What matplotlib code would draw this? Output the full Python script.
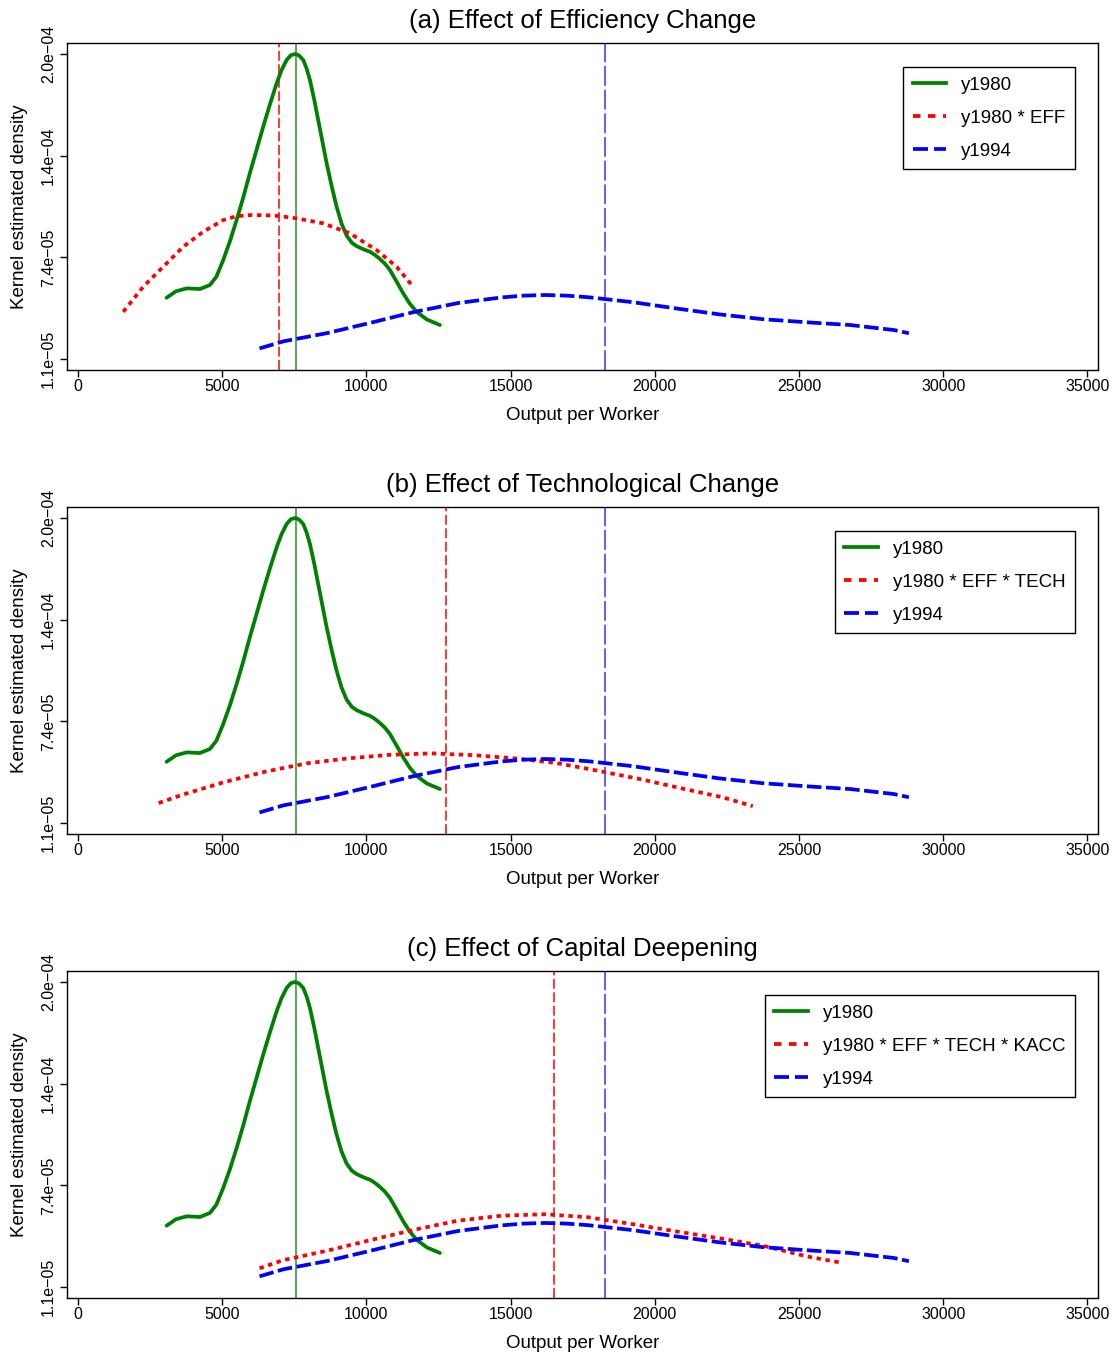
import numpy as np
import matplotlib
matplotlib.use('Agg')
import matplotlib.pyplot as plt
from matplotlib.lines import Line2D

plt.rcParams['font.family'] = ['Liberation Sans', 'DejaVu Sans']

# --- data (output per worker, kernel density) ---
y1980_x = [3075, 3400, 3769, 4230, 4577, 4800, 5038, 5270, 5502, 5730, 5963, 6200,
           6424, 6660, 6889, 7060, 7236, 7380, 7523, 7660, 7812, 7930, 8044, 8190,
           8331, 8622, 8800, 8969, 9140, 9316, 9500, 9662, 9900, 10124, 10300, 10471,
           10650, 10817, 11050, 11278, 11500, 11743, 12100, 12551]
y1980_y = [4.90e-5, 5.30e-5, 5.48e-5, 5.44e-5, 5.69e-5, 6.20e-5, 7.24e-5, 8.40e-5,
           9.71e-5, 1.11e-4, 1.263e-4, 1.41e-4, 1.550e-4, 1.69e-4, 1.818e-4, 1.90e-4,
           1.963e-4, 1.992e-4, 2.0e-4, 1.992e-4, 1.963e-4, 1.91e-4, 1.839e-4, 1.72e-4,
           1.591e-4, 1.325e-4, 1.18e-4, 1.054e-4, 9.50e-5, 8.75e-5, 8.30e-5, 8.10e-5,
           7.90e-5, 7.75e-5, 7.55e-5, 7.30e-5, 7.00e-5, 6.62e-5, 5.90e-5, 5.17e-5,
           4.55e-5, 4.03e-5, 3.55e-5, 3.21e-5]

y1994_x = [6296, 7128, 8640, 10151, 11663, 13175, 14686, 15450, 16194, 16950, 17706,
           19217, 20729, 22241, 23753, 25264, 26776, 28288, 28811]
y1994_y = [1.76e-5, 2.20e-5, 2.71e-5, 3.35e-5, 4.02e-5, 4.57e-5, 4.92e-5, 5.03e-5,
           5.07e-5, 5.03e-5, 4.93e-5, 4.63e-5, 4.24e-5, 3.87e-5, 3.57e-5, 3.38e-5,
           3.21e-5, 2.90e-5, 2.70e-5]

eff_x = [1571, 2264, 2957, 3651, 4344, 5038, 5500, 5963, 6426, 6889, 7582, 8505,
         9430, 10356, 11049, 11625]
eff_y = [4.03e-5, 5.58e-5, 6.82e-5, 8.06e-5, 8.99e-5, 9.71e-5, 9.95e-5, 1.002e-4,
         1.002e-4, 9.98e-5, 9.82e-5, 9.51e-5, 8.89e-5, 7.85e-5, 6.82e-5, 5.58e-5]

tech_x = [2800, 3595, 5038, 6483, 7929, 9372, 10817, 12263, 13705, 15151, 16597,
          18039, 19485, 20930, 22372, 23400]
tech_y = [2.34e-5, 2.84e-5, 3.62e-5, 4.28e-5, 4.80e-5, 5.11e-5, 5.33e-5, 5.42e-5,
          5.31e-5, 5.11e-5, 4.82e-5, 4.34e-5, 3.83e-5, 3.25e-5, 2.69e-5, 2.15e-5]

kacc_x = [6296, 7128, 8640, 10151, 11663, 13175, 14686, 16194, 17706, 19217,
          20729, 22241, 23753, 25264, 26400]
kacc_y = [2.26e-5, 2.77e-5, 3.35e-5, 4.01e-5, 4.65e-5, 5.21e-5, 5.52e-5, 5.61e-5,
          5.42e-5, 5.00e-5, 4.55e-5, 4.12e-5, 3.66e-5, 3.00e-5, 2.63e-5]

# vertical reference lines
vline_1980 = 7558
vline_1994 = 18271
vline_eff = 6969
vline_tech = 12759
vline_kacc = 16520

panel_titles = ['(a) Effect of Efficiency Change',
                '(b) Effect of Technological Change',
                '(c) Effect of Capital Deepening']
red_labels = ['y1980 * EFF', 'y1980 * EFF * TECH', 'y1980 * EFF * TECH * KACC']

x_ticks = [0, 5000, 10000, 15000, 20000, 25000, 30000, 35000]
y_ticks = [1.1e-5, 7.4e-5, 1.37e-4, 2.0e-4]
y_tick_labels = ['1.1e\u221205', '7.4e\u221205', '1.4e\u221204', '2.0e\u221204']

GREEN = '#008000'
RED = '#FF0000'
BLUE = '#0000FF'

red_series = [(eff_x, eff_y, vline_eff), (tech_x, tech_y, vline_tech), (kacc_x, kacc_y, vline_kacc)]

fig = plt.figure(figsize=(11.16, 13.54), dpi=100)
bottoms = [0.7267, 0.3840, 0.04136]

for i in range(3):
	ax = fig.add_axes([0.0600, bottoms[i], 0.9238, 0.2415])
	rx, ry, rv = red_series[i]

	# reference lines (means)
	ax.axvline(vline_1980, color=GREEN, lw=1.1, alpha=0.85, zorder=1)
	ax.axvline(rv, color=RED, lw=1.1, linestyle=(0, (6.5, 2.3)), zorder=1)
	ax.axvline(vline_1994, color=BLUE, lw=1.1, linestyle=(0, (13, 2.5)), alpha=0.8, zorder=1)

	# densities
	ax.plot(y1980_x, y1980_y, color=GREEN, lw=2.7, solid_capstyle='round',
	        solid_joinstyle='round', zorder=3)
	ax.plot(rx, ry, color=RED, lw=2.7, linestyle=(0, (1.2, 1.2)), zorder=3)
	ax.plot(y1994_x, y1994_y, color=BLUE, lw=2.7, linestyle=(0, (3.9, 1.2)), zorder=3)

	ax.set_xlim(-380, 35365)
	ax.set_ylim(4.2e-6, 2.068e-4)
	ax.set_xticks(x_ticks)
	ax.set_xticklabels([str(t) for t in x_ticks], fontsize=11.5)
	ax.set_yticks(y_ticks)
	ax.set_yticklabels(y_tick_labels, fontsize=11.5, rotation=90, va='center')
	ax.tick_params(axis='x', direction='out', length=5, width=1, pad=1.5)
	ax.tick_params(axis='y', direction='out', length=5, width=1, pad=3)
	for sp in ax.spines.values():
		sp.set_linewidth(1)
		sp.set_color('black')

	ax.set_title(panel_titles[i], fontsize=18.5, pad=11)
	ax.set_xlabel('Output per Worker', fontsize=13.5, labelpad=9)
	ax.set_ylabel('Kernel estimated density', fontsize=13.5, labelpad=9)

	handles = [
		Line2D([0], [0], color=GREEN, lw=2.7),
		Line2D([0], [0], color=RED, lw=2.7, linestyle=(0, (2.0, 2.0))),
		Line2D([0], [0], color=BLUE, lw=2.7, linestyle=(0, (4.0, 1.6))),
	]
	leg = ax.legend(handles, ['y1980', red_labels[i], 'y1994'], loc='upper right',
	                bbox_to_anchor=(0.9777, 0.9266), borderaxespad=0, fontsize=13.5,
	                fancybox=False, framealpha=1, edgecolor='black', handlelength=1.8,
	                handletextpad=0.8, labelspacing=0.85, borderpad=0.5)
	leg.get_frame().set_linewidth(1)

fig.savefig('out.png', dpi=100)
